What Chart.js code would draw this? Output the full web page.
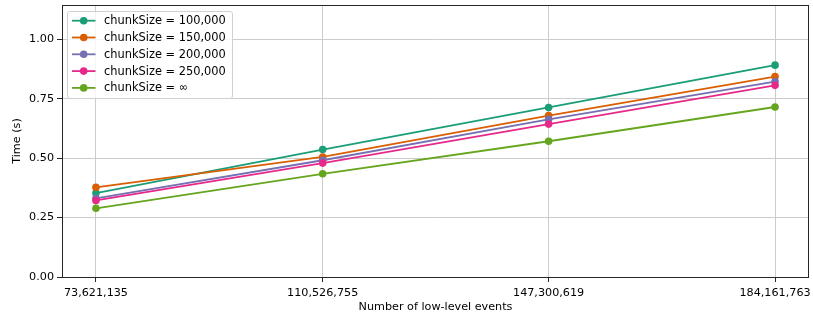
<!DOCTYPE html>
<html>
<head>
<meta charset="utf-8">
<script src="https://cdn.jsdelivr.net/npm/chart.js@4"></script>
<style>
  html, body { margin: 0; padding: 0; background: #fff; }
  #chart { display: block; }
</style>
</head>
<body>
<canvas id="chart" width="813" height="320"></canvas>
<script>
const events = [73621135, 110526755, 147300619, 184161763];
const seriesNames = ['chunkSize = 100,000', 'chunkSize = 150,000', 'chunkSize = 200,000', 'chunkSize = 250,000', 'chunkSize = \u221e'];
const chunk100k = [0.353, 0.536, 0.713, 0.891];
const chunk150k = [0.377, 0.505, 0.679, 0.843];
const chunk200k = [0.331, 0.491, 0.663, 0.822];
const chunk250k = [0.322, 0.479, 0.643, 0.806];
const chunkInf = [0.289, 0.434, 0.571, 0.715];
const yTicks = [0, 0.25, 0.5, 0.75, 1.0];

const colors = ['#1b9e77', '#d95f02', '#7570b3', '#e7298a', '#66a61e'];
const allSeries = [chunk100k, chunk150k, chunk200k, chunk250k, chunkInf];

const span = events[events.length - 1] - events[0];
const xMin = events[0] - span * 0.05;
const xMax = events[events.length - 1] + span * 0.05;

const font = { family: 'DejaVu Sans', size: 11.2 };
const textColor = '#000';

const datasets = allSeries.map((vals, i) => ({
    label: seriesNames[i],
    data: vals.map((v, j) => ({ x: events[j], y: v })),
    borderColor: colors[i],
    backgroundColor: colors[i],
    borderWidth: 1.8,
    pointRadius: 3.8,
    pointBorderWidth: 0,
    tension: 0,
    fill: false,
    order: allSeries.length - i
}));

// matplotlib-style frame and legend
const framePlugin = {
    id: 'frame',
    afterDraw(chart) {
        const { ctx, chartArea: a } = chart;
        ctx.save();
        ctx.strokeStyle = '#262626';
        ctx.lineWidth = 1;
        ctx.strokeRect(Math.round(a.left) + 0.5, Math.round(a.top) + 0.5,
            Math.round(a.right - a.left) - 1, Math.round(a.bottom - a.top));

        // legend
        const bx = 67.5, by = 11.5, bw = 165, bh = 87;
        ctx.fillStyle = 'rgba(255,255,255,0.8)';
        ctx.strokeStyle = '#d0d0d0';
        ctx.beginPath();
        ctx.roundRect(bx, by, bw, bh, 2.5);
        ctx.fill();
        ctx.stroke();
        ctx.font = '11.4px "DejaVu Sans"';
        ctx.textBaseline = 'middle';
        seriesNames.forEach((name, i) => {
            const yy = 20.7 + i * 16.8;
            ctx.strokeStyle = colors[i];
            ctx.lineWidth = 1.8;
            ctx.beginPath();
            ctx.moveTo(72, yy);
            ctx.lineTo(95.5, yy);
            ctx.stroke();
            ctx.fillStyle = colors[i];
            ctx.beginPath();
            ctx.arc(83.7, yy, 3.8, 0, Math.PI * 2);
            ctx.fill();
            ctx.fillStyle = textColor;
            ctx.fillText(name, 104, yy + 0.5);
        });
        ctx.restore();
    }
};

new Chart(document.getElementById('chart').getContext('2d'), {
    type: 'line',
    data: { datasets: datasets },
    options: {
        responsive: false,
        animation: false,
        layout: { padding: { left: 0, right: 3, top: 5, bottom: 0 } },
        plugins: {
            legend: { display: false },
            tooltip: { enabled: false }
        },
        scales: {
            x: {
                type: 'linear',
                min: xMin,
                max: xMax,
                afterBuildTicks: s => { s.ticks = events.map(v => ({ value: v })); },
                afterFit: s => { s.height = 43; s.paddingLeft = 0; s.paddingRight = 0; },
                ticks: {
                    font: font,
                    color: textColor,
                    maxRotation: 0,
                    autoSkip: false,
                    padding: 4,
                    callback: v => Number(v).toLocaleString('en-US')
                },
                grid: { color: '#cccccc', lineWidth: 1, tickLength: 5, tickColor: '#262626' },
                border: { display: false },
                title: {
                    display: true,
                    text: 'Number of low-level events',
                    font: font,
                    color: textColor,
                    padding: { top: 2, bottom: 6.5 }
                }
            },
            y: {
                min: 0,
                max: 1.144,
                afterBuildTicks: s => { s.ticks = yTicks.map(v => ({ value: v })); },
                afterFit: s => { s.width = 62; s.paddingTop = 0; s.paddingBottom = 0; },
                ticks: {
                    font: font,
                    color: textColor,
                    padding: 3,
                    callback: v => Number(v).toFixed(2)
                },
                grid: { color: '#cccccc', lineWidth: 1, tickLength: 5, tickColor: '#262626' },
                border: { display: false },
                title: {
                    display: true,
                    text: 'Time (s)',
                    font: font,
                    color: textColor,
                    padding: { top: 10.5, bottom: 0 }
                }
            }
        }
    },
    plugins: [framePlugin]
});
</script>
</body>
</html>
